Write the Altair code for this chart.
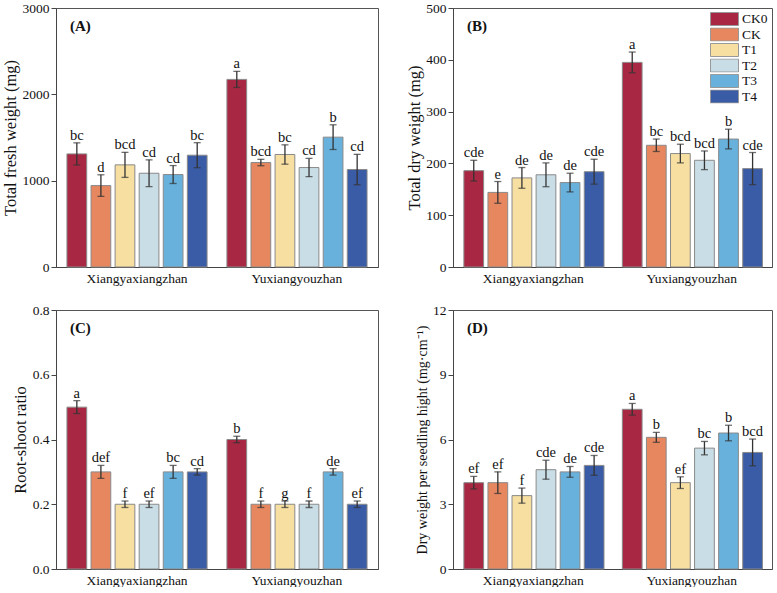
import altair as alt
import pandas as pd

groups = ["Xiangyaxiangzhan", "Yuxiangyouzhan"]
treatments = ["CK0", "CK", "T1", "T2", "T3", "T4"]
colors = ["#A82843", "#E6875F", "#F7DFA2", "#C8DDE5", "#67B1DC", "#3A5BA5"]

# Panel A: total fresh weight (mg), X group then Y group
fresh_mean = [1310, 943, 1183, 1086, 1071, 1295, 2173, 1210, 1303, 1152, 1504, 1129]
fresh_err = [128, 125, 145, 155, 104, 145, 93, 37, 112, 106, 143, 176]
fresh_letters = ["bc", "d", "bcd", "cd", "cd", "bc", "a", "bcd", "bc", "cd", "b", "cd"]

# Panel B: total dry weight (mg)
dry_mean = [186, 144, 172, 178, 163, 184, 395, 235, 219, 206, 247, 190]
dry_err = [20, 21, 20, 23, 18, 24, 20, 12, 18, 18, 19, 31]
dry_letters = ["cde", "e", "de", "de", "de", "cde", "a", "bc", "bcd", "bcd", "b", "cde"]

# Panel C: root-shoot ratio
ratio_mean = [0.5, 0.3, 0.2, 0.2, 0.3, 0.3, 0.4, 0.2, 0.2, 0.2, 0.3, 0.2]
ratio_err = [0.02, 0.02, 0.01, 0.01, 0.02, 0.01, 0.01, 0.01, 0.01, 0.01, 0.01, 0.01]
ratio_letters = ["a", "def", "f", "ef", "bc", "cd", "b", "f", "g", "f", "de", "ef"]

# Panel D: dry weight per seedling height (mg/cm)
dwh_mean = [4.0, 4.0, 3.4, 4.6, 4.5, 4.8, 7.4, 6.1, 4.0, 5.6, 6.3, 5.4]
dwh_err = [0.29, 0.5, 0.35, 0.44, 0.25, 0.46, 0.27, 0.23, 0.27, 0.31, 0.36, 0.62]
dwh_letters = ["ef", "ef", "f", "cde", "de", "cde", "a", "b", "ef", "bc", "b", "bcd"]

FONT = "Liberation Serif"
AXIS_COLOR = "#444"
TEXT = "#111111"


def make_df(means, errs, letters):
    rows = []
    i = 0
    for g in groups:
        for t in treatments:
            rows.append({"group": g, "treat": t, "mean": means[i],
                         "lo": means[i] - errs[i], "hi": means[i] + errs[i],
                         "letter": letters[i]})
            i += 1
    return pd.DataFrame(rows)


def panel(df, ytitle, ymax, yvals, fmt, tag, width, title_size=16.5, legend=False):
    xenc = alt.X("group:N", sort=groups,
                 scale=alt.Scale(paddingInner=0.097, paddingOuter=0.055),
                 axis=alt.Axis(title=None, labelAngle=0, ticks=False, labelPadding=4,
                               labelFontSize=13.5, labelFont=FONT, labelColor=TEXT,
                               domainColor=AXIS_COLOR))
    xoff = alt.XOffset("treat:N", sort=treatments,
                       scale=alt.Scale(paddingInner=0.18, paddingOuter=0.09))
    yscale = alt.Scale(domain=[0, ymax], nice=False)
    yaxis = alt.Axis(title=ytitle, values=yvals, format=fmt, grid=False,
                     tickSize=5, tickColor=AXIS_COLOR, labelPadding=2,
                     labelFontSize=13.5, labelFont=FONT, labelColor=TEXT,
                     titleFont=FONT, titleFontSize=title_size, titleFontWeight="normal",
                     titleColor=TEXT, titlePadding=3.5, domainColor=AXIS_COLOR)
    if legend:
        # wide rectangular swatch drawn to the right of the entry origin
        leg = alt.Legend(title=None, orient="none", legendX=257, legendY=4,
                         symbolType="M-1,-0.93H3V0.93H-1Z", symbolSize=196,
                         symbolStrokeColor="#999", symbolStrokeWidth=1,
                         symbolOpacity=1, labelFont=FONT, labelFontSize=13.5,
                         labelColor=TEXT, labelOffset=17, rowPadding=1.5,
                         clipHeight=14)
    else:
        leg = None
    color = alt.Color("treat:N", sort=treatments,
                      scale=alt.Scale(domain=treatments, range=colors), legend=leg)

    base = alt.Chart(df)
    bars = base.mark_bar(stroke="#8a8a8a", strokeWidth=1).encode(
        x=xenc, xOffset=xoff, y=alt.Y("mean:Q", scale=yscale, axis=yaxis), color=color)
    err = base.mark_rule(color="#333", strokeWidth=1.3).encode(
        x=alt.X("group:N", sort=groups), xOffset=alt.XOffset("treat:N", sort=treatments),
        y="lo:Q", y2="hi:Q")
    cap_hi = base.mark_tick(color="#333", thickness=1.3, size=7).encode(
        x=alt.X("group:N", sort=groups), xOffset=alt.XOffset("treat:N", sort=treatments),
        y="hi:Q")
    cap_lo = base.mark_tick(color="#333", thickness=1.3, size=7).encode(
        x=alt.X("group:N", sort=groups), xOffset=alt.XOffset("treat:N", sort=treatments),
        y="lo:Q")
    letters = base.mark_text(font=FONT, fontSize=14.5, color=TEXT, fill=TEXT, dy=-3,
                             baseline="alphabetic").encode(
        x=alt.X("group:N", sort=groups), xOffset=alt.XOffset("treat:N", sort=treatments),
        y="hi:Q", text="letter:N")
    tagc = alt.Chart(pd.DataFrame({"t": [tag]})).mark_text(
        font=FONT, fontSize=15, fontWeight="bold", color=TEXT, fill=TEXT, align="left",
        baseline="middle").encode(text="t:N", x=alt.value(14), y=alt.value(18))
    return alt.layer(bars, err, cap_hi, cap_lo, letters, tagc).properties(
        width=width, height=259)


pA = panel(make_df(fresh_mean, fresh_err, fresh_letters), "Total fresh weight (mg)",
           3000, [0, 1000, 2000, 3000], "d", "(A)", 322)
pB = panel(make_df(dry_mean, dry_err, dry_letters), "Total dry weight (mg)",
           500, [0, 100, 200, 300, 400, 500], "d", "(B)", 319, legend=True)
pC = panel(make_df(ratio_mean, ratio_err, ratio_letters), "Root-shoot ratio",
           0.8, [0, 0.2, 0.4, 0.6, 0.8], ".1f", "(C)", 322)
pD = panel(make_df(dwh_mean, dwh_err, dwh_letters),
           "Dry weight per seedling hight (mg\u00b7cm\u207b\u00b9)",
           12, [0, 3, 6, 9, 12], "d", "(D)", 319, title_size=14)

chart = alt.concat(pA, pB, pC, pD, columns=2, spacing={"row": 17, "column": 26}).resolve_scale(
    color="independent").resolve_legend(color="independent").properties(
    padding={"left": 2, "top": 0, "right": 0, "bottom": 0},
    background="white").configure_view(stroke="#555", strokeWidth=1)

chart.save("out.html", embed_options={"renderer": "svg", "actions": False})
